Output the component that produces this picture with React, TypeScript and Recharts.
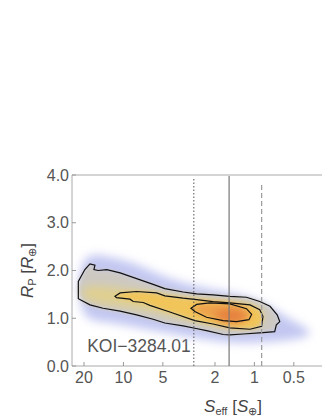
import React from 'react';
import { ScatterChart, Scatter, XAxis, YAxis, ReferenceLine, Label, Curve } from 'recharts';

const FONT = '"Liberation Sans", Arial, sans-serif';

const xTicks = [20, 10, 5, 2, 1, 0.5];
const yTicks = [0, 1, 2, 3, 4];
const xDomain = [0.222, 24.7];
const yDomain = [0, 4];

// density halo (blue)
const haloS = [22.1, 13.4, 8.0, 5.0, 2.61, 1.45, 0.85, 0.6, 0.4, 0.36, 0.47, 0.85, 1.45, 2.61, 5.0, 8.9, 15.1, 22.1];
const haloR = [2.4, 2.3, 2.16, 1.86, 1.64, 1.54, 1.34, 1.05, 0.8, 0.66, 0.55, 0.49, 0.47, 0.57, 0.71, 0.84, 0.94, 0.99];

// yellowish core band
const coreS = [21.5, 10.6, 5.27, 2.61, 1.08, 0.83, 0.88, 1.29, 2.61, 5.27, 10.6, 21.5];
const coreR = [1.73, 1.64, 1.47, 1.39, 1.33, 1.14, 0.93, 0.82, 0.93, 1.12, 1.26, 1.35];

// contours
const outerS = [22.1, 22.1, 19.7, 18.0, 16.5, 16.8, 15.6, 13.4, 10.6, 7.93, 5.93, 4.83, 3.5, 2.76, 2.07, 1.54, 1.15, 0.91, 0.76, 0.67, 0.64, 0.68, 0.7, 0.86, 1.22, 1.54, 1.73, 2.32, 2.85, 3.5, 4.83, 5.93, 7.93, 10.6, 14.3, 18.0];
const outerR = [1.41, 1.77, 2.02, 2.14, 2.11, 2.02, 2.0, 2.02, 1.95, 1.83, 1.71, 1.62, 1.55, 1.51, 1.49, 1.46, 1.44, 1.35, 1.25, 1.07, 0.93, 0.86, 0.72, 0.7, 0.67, 0.65, 0.66, 0.74, 0.79, 0.84, 0.9, 0.98, 1.07, 1.15, 1.21, 1.28];

const middleS = [11.6, 10.6, 7.93, 5.58, 4.83, 3.5, 2.76, 2.07, 1.54, 1.08, 0.91, 0.86, 0.88, 1.08, 1.54, 2.07, 2.85, 4.42, 6.28, 7.06, 8.42, 8.91, 11.3];
const middleR = [1.46, 1.53, 1.56, 1.53, 1.47, 1.42, 1.39, 1.35, 1.32, 1.28, 1.18, 1.04, 0.83, 0.77, 0.8, 0.88, 0.95, 1.13, 1.27, 1.33, 1.35, 1.4, 1.43];

const innerS = [3.05, 2.76, 2.19, 1.54, 1.15, 1.05, 1.1, 1.37, 1.73, 2.32, 2.85];
const innerR = [1.21, 1.29, 1.32, 1.3, 1.2, 1.08, 0.97, 0.93, 0.95, 1.02, 1.14];

const centerS = [2.11, 1.9, 1.49, 1.2, 1.12, 1.29, 1.68];
const centerR = [1.05, 1.16, 1.2, 1.14, 1.01, 0.91, 0.91];

// vertical marker lines
const lineS = [2.9, 1.56, 0.88];
const lineTop = [3.92, 3.98, 3.85];

const zip = (s: number[], r: number[]) => s.map((v, i) => ({ s: v, r: r[i] }));

const halo = zip(haloS, haloR);
const core = zip(coreS, coreR);
const outer = zip(outerS, outerR);
const middle = zip(middleS, middleR);
const inner = zip(innerS, innerR);
const center = zip(centerS, centerR);

const NoDot = () => <g />;

const blob = (id: string, color: string, blur: number, opacity = 1) => (p: any) => (
  <g>
    <defs>
      <filter id={id} filterUnits="userSpaceOnUse" x={0} y={0} width={400} height={420}>
        <feGaussianBlur stdDeviation={blur} />
      </filter>
    </defs>
    <g filter={`url(#${id})`}>
      <Curve points={p.points} type="basisClosed" fill={color} fillOpacity={opacity} stroke="none" />
    </g>
  </g>
);

const XTick = (props: any) => {
  const { x, y, payload } = props;
  return (
    <g>
      <line x1={x} y1={y} x2={x} y2={y - 4} stroke="#999" />
      <text x={x} y={y + 17} textAnchor="middle" fontSize={16} fill="#555" fontFamily={FONT}>
        {payload.value}
      </text>
    </g>
  );
};

const YTick = (props: any) => {
  const { x, y, payload } = props;
  return (
    <g>
      <line x1={x} y1={y} x2={x + 4} y2={y} stroke="#999" />
      <text x={x - 3} y={y + 5.5} textAnchor="end" fontSize={16} fill="#555" fontFamily={FONT}>
        {Number(payload.value).toFixed(1)}
      </text>
    </g>
  );
};

const YTitle = (props: any) => {
  const vb = props.viewBox || { x: 71, y: 175, height: 191 };
  const bx = vb.x - 38;
  const cy = vb.y + vb.height / 2;
  return (
    <text transform={`translate(${bx},${cy}) rotate(-90)`} textAnchor="middle" fontSize={17} fill="#444" fontFamily={FONT}>
      <tspan fontStyle="italic">R</tspan>
      <tspan fontSize={11} dy={3}>P</tspan>
      <tspan dy={-3}> [</tspan>
      <tspan fontStyle="italic">R</tspan>
      <tspan fontSize={11} dy={3}>⊕</tspan>
      <tspan dy={-3}>]</tspan>
    </text>
  );
};

const XTitle = (props: any) => {
  const vb = props.viewBox || { x: 72, y: 366 };
  return (
    <g>
      <text x={vb.x + 161} y={vb.y + 46} textAnchor="middle" fontSize={17} fill="#444" fontFamily={FONT}>
        <tspan fontStyle="italic">S</tspan>
        <tspan fontSize={11} dy={3}>eff</tspan>
        <tspan dy={-3}> [</tspan>
        <tspan fontStyle="italic">S</tspan>
        <tspan fontSize={11} dy={3}>⊕</tspan>
        <tspan dy={-3}>]</tspan>
      </text>
      <text x={vb.x + 67} y={vb.y - 14} textAnchor="middle" fontSize={17.5} fill="#555" fontFamily={FONT}>
        KOI−3284.01
      </text>
    </g>
  );
};

export default function App() {
  return (
    <div style={{ position: 'absolute', left: 0, top: 0, width: 322, height: 416, overflow: 'hidden', background: '#fff' }}>
      <ScatterChart width={340} height={416} margin={{ top: 175, left: 71, right: 0, bottom: 49 }}>
        <XAxis
          type="number"
          dataKey="s"
          scale="log"
          domain={xDomain}
          allowDataOverflow
          reversed
          ticks={xTicks}
          height={1}
          tickSize={0}
          tickMargin={0}
          tick={<XTick />}
          axisLine={{ stroke: '#aaa' }}
          tickLine={false}
          interval={0}
        >
          <Label content={<XTitle />} />
        </XAxis>
        <YAxis
          type="number"
          dataKey="r"
          domain={yDomain}
          allowDataOverflow
          ticks={yTicks}
          width={1}
          tickSize={0}
          tickMargin={0}
          tick={<YTick />}
          axisLine={{ stroke: '#aaa' }}
          tickLine={false}
          interval={0}
        >
          <Label content={<YTitle />} />
        </YAxis>
        <Scatter data={halo} dataKey="r" shape={NoDot} line={blob('bHalo', '#bcc1f0', 5, 0.9)} isAnimationActive={false} />
        <Scatter data={outer} dataKey="r" shape={NoDot} line={blob('bOuter', '#cdc9c2', 2)} isAnimationActive={false} />
        <Scatter data={core} dataKey="r" shape={NoDot} line={blob('bCore', '#e2d08a', 5, 0.9)} isAnimationActive={false} />
        <Scatter data={middle} dataKey="r" shape={NoDot} line={blob('bMid', '#f1c55a', 2)} isAnimationActive={false} />
        <Scatter data={inner} dataKey="r" shape={NoDot} line={blob('bInner', '#eda24c', 3)} isAnimationActive={false} />
        <Scatter data={center} dataKey="r" shape={NoDot} line={blob('bCenter', '#e57e3e', 4)} isAnimationActive={false} />
        <Scatter data={outer} dataKey="r" shape={NoDot} line={{ stroke: '#111', strokeWidth: 1.2 }} lineJointType="linearClosed" isAnimationActive={false} />
        <Scatter data={middle} dataKey="r" shape={NoDot} line={{ stroke: '#111', strokeWidth: 1.2 }} lineJointType="linearClosed" isAnimationActive={false} />
        <Scatter data={inner} dataKey="r" shape={NoDot} line={{ stroke: '#111', strokeWidth: 1.2 }} lineJointType="linearClosed" isAnimationActive={false} />
        <ReferenceLine y={4} stroke="#aaa" zIndex={1000} />
        <ReferenceLine segment={[{ x: lineS[0], y: 0 }, { x: lineS[0], y: lineTop[0] }]} stroke="#555" strokeDasharray="1.5 2" zIndex={1000} />
        <ReferenceLine segment={[{ x: lineS[1], y: 0 }, { x: lineS[1], y: lineTop[1] }]} stroke="#777" strokeWidth={1.2} zIndex={1000} />
        <ReferenceLine segment={[{ x: lineS[2], y: 0 }, { x: lineS[2], y: lineTop[2] }]} stroke="#999" strokeWidth={1.2} strokeDasharray="5 3" zIndex={1000} />
      </ScatterChart>
    </div>
  );
}
